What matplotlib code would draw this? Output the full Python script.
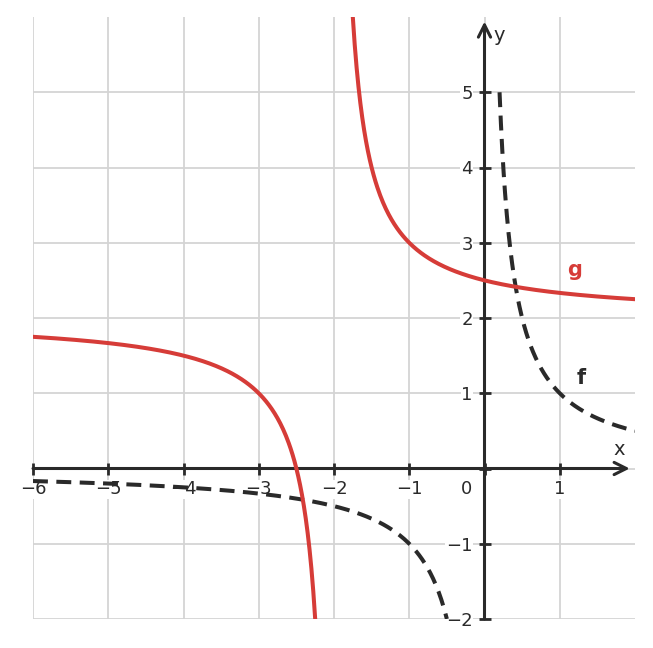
import numpy as np
import matplotlib.pyplot as plt

# f(x) = 1/x  and  g(x) = f(x - h) + k  (g is f moved 2 left, 2 up)
shift_x = -2.0
shift_y = 2.0
x_ticks = [-6, -5, -4, -3, -2, -1, 0, 1]
y_ticks = [-2, -1, 0, 1, 2, 3, 4, 5]
xlim = (-6, 2)
ylim = (-2, 6)

red = '#d63c38'
dark = '#2a2a2a'


def fmt(t):
    if t == 0:
        return ''
    return f'\u2212{-t}' if t < 0 else str(t)


fig = plt.figure(figsize=(6.53, 6.48), dpi=100)
ax = fig.add_axes([33/653, 1 - 619/648, 602/653, 602/648])
ax.set_xlim(*xlim)
ax.set_ylim(*ylim)

# f, clipped to the window (y from -2 to 5 on the right)
xf_neg = np.linspace(-6, -0.5, 300)
xf_pos = np.linspace(0.2, 2, 300)
for xs in (xf_neg, xf_pos):
    ax.plot(xs, 1 / xs, color=dark, lw=2.9, dashes=(3.7, 2.1), zorder=3,
            solid_capstyle='butt')

# g
xg_left = np.linspace(-6, -2.25, 300)
xg_right = np.linspace(-1.75, 2, 300)
for xs in (xg_left, xg_right):
    ax.plot(xs, 1 / (xs - shift_x) + shift_y, color=red, lw=2.9, zorder=3)

ax.set_xticks(x_ticks)
ax.set_yticks(y_ticks)
ax.grid(True, color='#d4d4d4', lw=1.3, zorder=0)
ax.set_axisbelow(True)

for s in ['top', 'right']:
    ax.spines[s].set_visible(False)
ax.spines['left'].set_position(('data', 0))
ax.spines['bottom'].set_position(('data', 0))
ax.spines['left'].set_visible(False)
ax.spines['bottom'].set_visible(False)

ax.tick_params(axis='x', direction='inout', length=9, width=2,
               color=dark, labelsize=13, labelcolor=dark, pad=4)
ax.tick_params(axis='y', direction='inout', length=9, width=2,
               color=dark, labelsize=13, labelcolor=dark, pad=4)
ax.set_xticklabels([fmt(t) for t in x_ticks])
ax.set_yticklabels([fmt(t) for t in y_ticks])
for lab in ax.get_xticklabels() + ax.get_yticklabels():
    if lab.get_text():
        lab.set_bbox(dict(facecolor='white', edgecolor='none', pad=0.5))

# axis lines with arrows
arrow = dict(arrowstyle='->', lw=2.2, color=dark, mutation_scale=22,
             shrinkA=0, shrinkB=0)
ax.annotate('', xy=(1.93, 0), xytext=(-6, 0), arrowprops=arrow, zorder=2.5)
ax.annotate('', xy=(0, 5.94), xytext=(0, -2), arrowprops=arrow, zorder=2.5)

ax.text(1.79, 0.25, 'x', fontsize=14, color=dark, ha='center', va='center')
ax.text(0.19, 5.75, 'y', fontsize=14, color=dark, ha='center', va='center')
ax.text(-0.24, -0.27, '0', fontsize=13, color=dark, ha='center', va='center')

ax.text(1.2, 2.64, 'g', fontsize=15, fontweight='bold', color=red,
        ha='center', va='center')
ax.text(1.29, 1.2, 'f', fontsize=15, fontweight='bold', color=dark,
        ha='center', va='center')

fig.savefig('out.png', dpi=100)
